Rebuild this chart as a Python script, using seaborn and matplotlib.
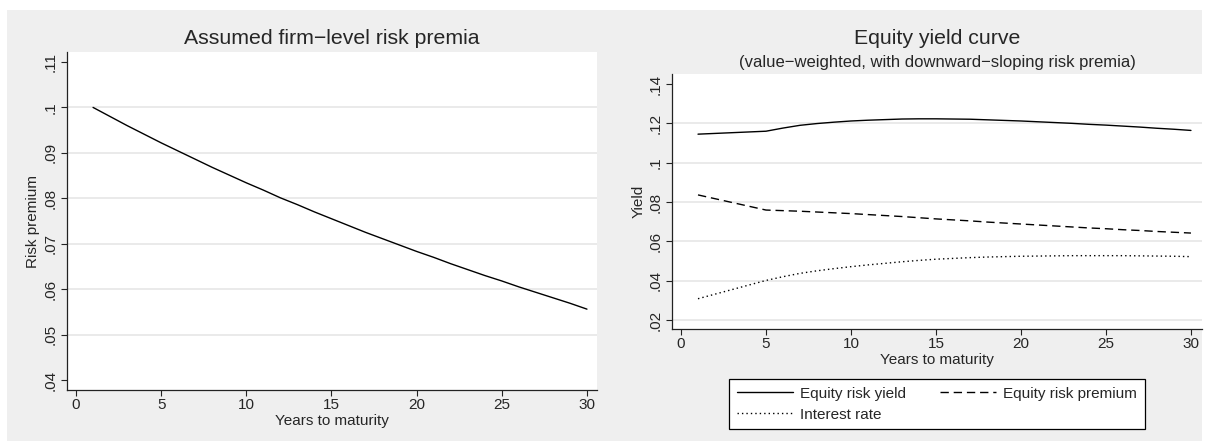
import pandas as pd
import seaborn as sns
import matplotlib.pyplot as plt
from matplotlib.patches import Rectangle
from matplotlib.ticker import FuncFormatter

# Left panel: assumed firm-level risk premium by maturity
years_left = list(range(1, 31))
risk_premium = [
    0.1000, 0.0980, 0.0960, 0.0941, 0.0922, 0.0904, 0.0886, 0.0868, 0.0851, 0.0834,
    0.0818, 0.0801, 0.0786, 0.0770, 0.0755, 0.0740, 0.0725, 0.0711, 0.0697, 0.0683,
    0.0670, 0.0656, 0.0643, 0.0630, 0.0618, 0.0605, 0.0593, 0.0581, 0.0569, 0.0556,
]

# Right panel: equity yield curve (maturity 1, then 5..30)
years_right = [1] + list(range(5, 31))
equity_yield = [
    0.1145, 0.1160, 0.1176, 0.1190, 0.1199, 0.1206, 0.1212, 0.1216, 0.1219, 0.1222,
    0.1223, 0.1223, 0.1222, 0.1221, 0.1218, 0.1215, 0.1212, 0.1208, 0.1204, 0.1200,
    0.1195, 0.1191, 0.1186, 0.1181, 0.1175, 0.1170, 0.1164,
]
equity_premium = [
    0.0836, 0.0759, 0.0756, 0.0753, 0.0749, 0.0745, 0.0741, 0.0736, 0.0731, 0.0726,
    0.0720, 0.0714, 0.0709, 0.0704, 0.0698, 0.0693, 0.0688, 0.0683, 0.0678, 0.0673,
    0.0668, 0.0664, 0.0659, 0.0655, 0.0650, 0.0646, 0.0642,
]
interest_rate = [
    0.0308, 0.0401, 0.0420, 0.0437, 0.0450, 0.0461, 0.0471, 0.0480, 0.0488, 0.0496,
    0.0503, 0.0509, 0.0513, 0.0517, 0.0520, 0.0522, 0.0524, 0.0525, 0.0526, 0.0527,
    0.0527, 0.0527, 0.0527, 0.0526, 0.0525, 0.0524, 0.0522,
]

x_ticks = [0, 5, 10, 15, 20, 25, 30]
left_yticks = [0.04, 0.05, 0.06, 0.07, 0.08, 0.09, 0.10, 0.11]
right_yticks = [0.02, 0.04, 0.06, 0.08, 0.10, 0.12, 0.14]

sns.set_style("white")
plt.rcParams["font.family"] = ["Liberation Sans", "DejaVu Sans"]

W, H = 1205, 441
fig = plt.figure(figsize=(W / 100, H / 100), dpi=100, facecolor="white")
# grey graph region behind both panels
fig.patches.append(Rectangle((7 / W, 0), 1195 / W, 431 / H, transform=fig.transFigure,
                             facecolor="#efefef", edgecolor="none", zorder=-10))


def stata_fmt(v, pos):
    s = f"{v:.2f}".rstrip("0")
    return s[1:] if s.startswith("0") else s


def style_axis(ax, yticks, grid_ticks, ylabel):
    ax.set_facecolor("white")
    for side in ["top", "right"]:
        ax.spines[side].set_visible(False)
    for side in ["left", "bottom"]:
        ax.spines[side].set_color("#222222")
        ax.spines[side].set_linewidth(0.9)
    ax.set_xticks(x_ticks)
    ax.set_yticks(yticks)
    ax.yaxis.set_major_formatter(FuncFormatter(stata_fmt))
    ax.tick_params(axis="both", direction="out", length=4, width=0.8,
                   color="#222222", labelsize=11, pad=2, left=True, bottom=True)
    ax.tick_params(axis="y", labelrotation=90, pad=3)
    for lab in ax.get_yticklabels():
        lab.set_va("center")
    for g in grid_ticks:
        ax.axhline(g, color="#e8e8e8", lw=1.3, zorder=0)
    ax.set_xlabel("Years to maturity", fontsize=11, labelpad=1)
    ax.set_ylabel(ylabel, fontsize=11, labelpad=2)


# ---- left panel
ax1 = fig.add_axes([67 / W, 1 - 390 / H, 530 / W, 338 / H])
df_left = pd.DataFrame({"Years": years_left, "Risk premium": risk_premium})
sns.lineplot(data=df_left, x="Years", y="Risk premium", ax=ax1, color="black", lw=1.0)
ax1.set_xlim(-0.53, 30.59)
ax1.set_ylim(0.0378, 0.1122)
style_axis(ax1, left_yticks, [0.05, 0.06, 0.07, 0.08, 0.09, 0.10], "Risk premium")
fig.text(332 / W, 1 - 38 / H, "Assumed firm\u2212level risk premia", ha="center",
         va="center", fontsize=15.3)

# ---- right panel
ax2 = fig.add_axes([672 / W, 1 - 329 / H, 530 / W, 255 / H])
df_right = pd.DataFrame({
    "Years": years_right * 3,
    "Yield": equity_yield + equity_premium + interest_rate,
    "Series": ["Equity risk yield"] * len(years_right)
    + ["Equity risk premium"] * len(years_right)
    + ["Interest rate"] * len(years_right),
})
styles = {
    "Equity risk yield": "-",
    "Equity risk premium": (0, (6, 3.5)),
    "Interest rate": (0, (1, 2.2)),
}
for name, ls in styles.items():
    sns.lineplot(data=df_right[df_right["Series"] == name], x="Years", y="Yield",
                 ax=ax2, color="black", lw=1.0, linestyle=ls, label=name)
ax2.set_xlim(-0.53, 30.65)
ax2.set_ylim(0.0154, 0.1451)
style_axis(ax2, right_yticks, [0.02, 0.04, 0.06, 0.08, 0.10, 0.12], "Yield")
fig.text(937 / W, 1 - 38 / H, "Equity yield curve", ha="center", va="center", fontsize=15.3)
fig.text(937 / W, 1 - 62 / H, "(value\u2212weighted, with downward\u2212sloping risk premia)",
         ha="center", va="center", fontsize=12)

handles, labels = ax2.get_legend_handles_labels()
ax2.get_legend().remove()
order = [0, 2, 1]
leg = fig.legend([handles[i] for i in order], [labels[i] for i in order],
                 loc="upper left", bbox_to_anchor=(729 / W, 1 - 379 / H),
                 borderaxespad=0, ncol=2, fontsize=11, frameon=True, fancybox=False,
                 edgecolor="black", framealpha=1, handlelength=3.7, handletextpad=0.45,
                 columnspacing=2.2, labelspacing=0.45, borderpad=0.5)
leg.get_frame().set_linewidth(0.9)

fig.savefig("out.png", dpi=100, facecolor="white")
